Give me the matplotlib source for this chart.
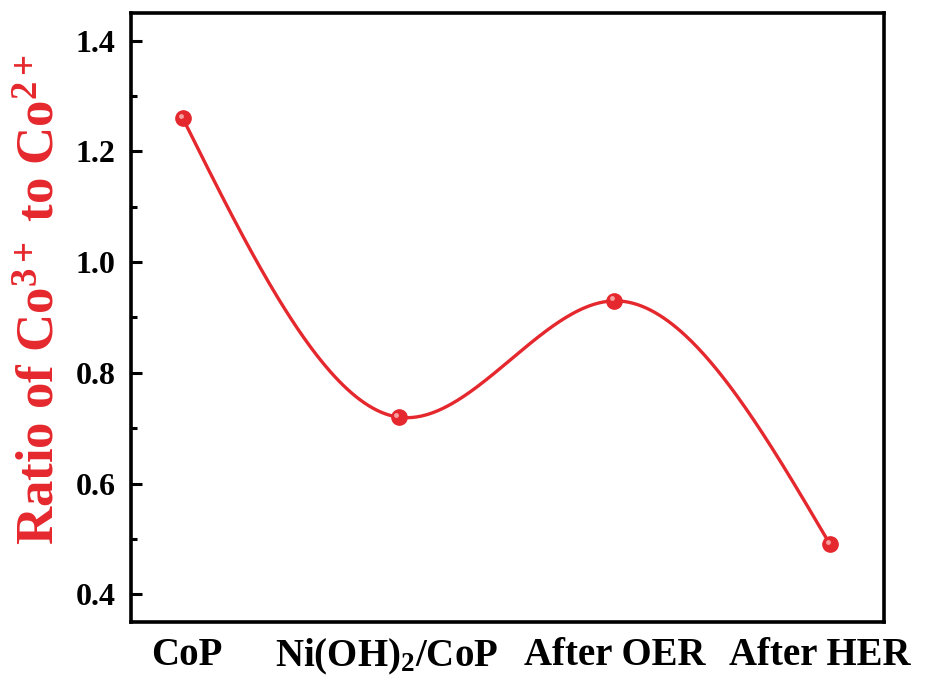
import numpy as np
import matplotlib
matplotlib.use("Agg")
import matplotlib.pyplot as plt
import matplotlib.transforms as mtransforms

plt.rcParams['font.family'] = ['Liberation Serif', 'DejaVu Serif']
plt.rcParams['font.weight'] = 'bold'
plt.rcParams['mathtext.fontset'] = 'custom'
plt.rcParams['mathtext.rm'] = 'Liberation Serif:bold'
plt.rcParams['mathtext.bf'] = 'Liberation Serif:bold'
plt.rcParams['mathtext.it'] = 'Liberation Serif:bold:italic'

# data
samples = ["CoP", r"Ni(OH)$_\mathbf{2}$/CoP", "After OER", "After HER"]
ratio = [1.26, 0.72, 0.93, 0.49]
yticks = [0.4, 0.6, 0.8, 1.0, 1.2, 1.4]

red = "#e5282d"


def natural_spline(x, y, num=300):
    # natural cubic spline through the points (like Origin's spline connection)
    x = np.asarray(x, float)
    y = np.asarray(y, float)
    n = len(x)
    h = np.diff(x)
    A = np.zeros((n, n))
    b = np.zeros(n)
    A[0, 0] = A[-1, -1] = 1
    for i in range(1, n - 1):
        A[i, i - 1] = h[i - 1]
        A[i, i] = 2 * (h[i - 1] + h[i])
        A[i, i + 1] = h[i]
        b[i] = 6 * ((y[i + 1] - y[i]) / h[i] - (y[i] - y[i - 1]) / h[i - 1])
    M = np.linalg.solve(A, b)
    xs = np.linspace(x[0], x[-1], num)
    idx = np.clip(np.searchsorted(x, xs) - 1, 0, n - 2)
    x0, x1 = x[idx], x[idx + 1]
    hh = x1 - x0
    t0, t1 = x1 - xs, xs - x0
    ys = (M[idx] * t0**3 + M[idx + 1] * t1**3) / (6 * hh) \
        + (y[idx] / hh - M[idx] * hh / 6) * t0 \
        + (y[idx + 1] / hh - M[idx + 1] * hh / 6) * t1
    return xs, ys


pos = np.arange(len(samples))
xs, ys = natural_spline(pos, ratio)

fig = plt.figure(figsize=(9.25, 6.8), dpi=100)
ax = fig.add_axes([0.1416, 0.0853, 0.8141, 0.8956])

ax.plot(xs, ys, color=red, lw=2.4, zorder=2)
ax.plot(pos, ratio, 'o', color=red, ms=11, mec=red, zorder=3)
# small highlight to give the markers a glossy look
hl = mtransforms.offset_copy(ax.transData, fig=fig, x=-1.5, y=1.8, units='points')
ax.plot(pos, ratio, 'o', color='#f7a0a0', ms=3.5, mec='none', transform=hl, zorder=4)

ax.set_xlim(-0.24, 3.25)
ax.set_ylim(0.35, 1.45)
ax.set_yticks(yticks)
ax.set_yticklabels([f"{v:.1f}" for v in yticks])
ax.set_yticks(np.arange(0.5, 1.45, 0.2), minor=True)
ax.set_xticks(pos)
ax.set_xticklabels(samples)

ax.tick_params(axis='y', which='major', direction='in', length=8, width=2.2,
               labelsize=23, pad=11)
ax.tick_params(axis='y', which='minor', direction='in', length=4, width=2.2)
ax.tick_params(axis='x', length=0, labelsize=28, pad=11)
for s in ax.spines.values():
    s.set_linewidth(2.6)

# nudge the category labels the way they sit in the original
shifts = [4, -12, 0, -10]
for lab, dx in zip(ax.get_xticklabels(), shifts):
    lab.set_transform(lab.get_transform() +
                      mtransforms.ScaledTranslation(dx / 100, 0, fig.dpi_scale_trans))

ax.set_ylabel(r"Ratio of Co$^{\mathbf{3+}}$ to Co$^{\mathbf{2+}}$", color=red,
              fontsize=38, fontweight='bold')
ax.yaxis.set_label_coords(-0.088, 0.53)

fig.savefig("out.png", dpi=100)
